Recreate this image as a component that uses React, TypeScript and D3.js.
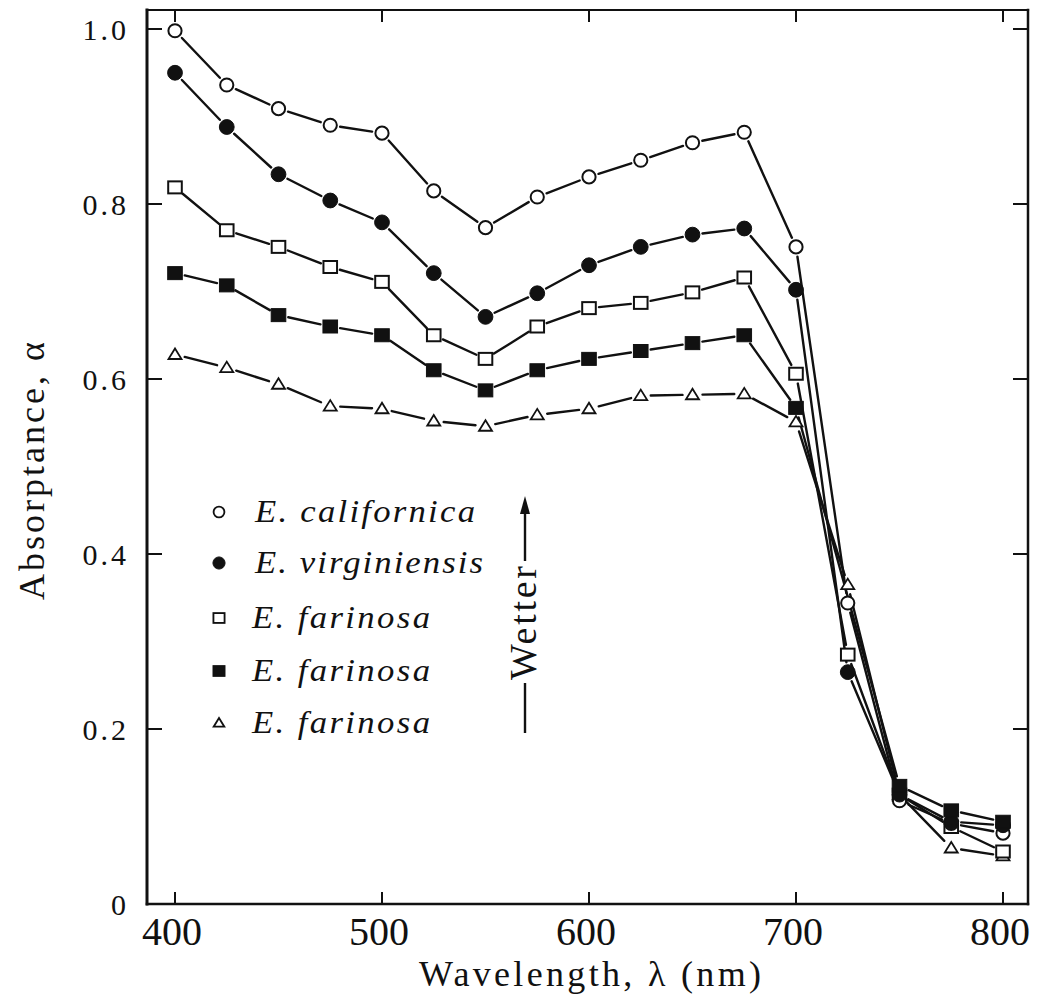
import React from "react";
import * as d3 from "d3";

// Wavelength grid (nm) shared by all leaf series
const wavelengths = [400, 425, 450, 475, 500, 525, 550, 575, 600, 625, 650, 675, 700, 725, 750, 775, 800];

// Absorptance per species / leaf type
const californica = [0.998, 0.936, 0.909, 0.89, 0.881, 0.815, 0.773, 0.808, 0.831, 0.85, 0.87, 0.882, 0.751, 0.344, 0.118, 0.092, 0.081];
const virginiensis = [0.95, 0.888, 0.834, 0.804, 0.779, 0.721, 0.671, 0.698, 0.73, 0.751, 0.765, 0.772, 0.702, 0.265, 0.125, 0.094, 0.09];
const farinosaA = [0.819, 0.77, 0.751, 0.728, 0.711, 0.65, 0.623, 0.66, 0.681, 0.687, 0.699, 0.716, 0.606, 0.285, 0.125, 0.088, 0.06];
const farinosaB = [0.721, 0.707, 0.673, 0.66, 0.65, 0.61, 0.587, 0.61, 0.623, 0.632, 0.641, 0.65, 0.567, null, 0.135, 0.107, 0.094];
const farinosaC = [0.628, 0.613, 0.594, 0.569, 0.566, 0.552, 0.546, 0.559, 0.566, 0.581, 0.582, 0.583, 0.551, 0.365, 0.125, 0.064, 0.055];

const seriesLabels = ["E. californica", "E. virginiensis", "E. farinosa", "E. farinosa", "E. farinosa"];
const xTicks = [400, 500, 600, 700, 800];
const yTicks = [0, 0.2, 0.4, 0.6, 0.8, 1.0];
const yTickLabels = ["0", "0.2", "0.4", "0.6", "0.8", "1.0"];

type Kind = "circleOpen" | "circleFilled" | "squareOpen" | "squareFilled" | "triangleOpen";

const series: { kind: Kind; values: (number | null)[] }[] = [
  { kind: "triangleOpen", values: farinosaC },
  { kind: "squareOpen", values: farinosaA },
  { kind: "circleOpen", values: californica },
  { kind: "circleFilled", values: virginiensis },
  { kind: "squareFilled", values: farinosaB },
];
const legendKinds: Kind[] = ["circleOpen", "circleFilled", "squareOpen", "squareFilled", "triangleOpen"];
const legendWidths = [220, 228, 178, 178, 178];

const W = 1037;
const H = 999;
const frame = { left: 147, right: 1028, top: 10, bottom: 904 };

const x = d3.scaleLinear().domain([400, 800]).range([175, 1003]);
const y = d3.scaleLinear().domain([0, 1]).range([904, 29]);

const INK = "#111";
const serif: React.CSSProperties = { fontFamily: '"Liberation Serif", "Times New Roman", serif' };

function Marker({ kind, cx, cy, s = 1 }: { kind: Kind; cx: number; cy: number; s?: number }) {
  const sw = 2 * Math.min(1, s + 0.1);
  switch (kind) {
    case "circleOpen":
      return <circle cx={cx} cy={cy} r={6.6 * s} fill="#fff" stroke={INK} strokeWidth={sw} />;
    case "circleFilled":
      return <circle cx={cx} cy={cy} r={7.4 * s} fill={INK} stroke={INK} strokeWidth={1} />;
    case "squareOpen":
      return <rect x={cx - 6.8 * s} y={cy - 6 * s} width={13.6 * s} height={12 * s} fill="#fff" stroke={INK} strokeWidth={sw} />;
    case "squareFilled":
      return <rect x={cx - 7.3 * s} y={cy - 6.5 * s} width={14.6 * s} height={13 * s} fill={INK} stroke={INK} strokeWidth={1} />;
    case "triangleOpen": {
      const h = 10 * s;
      const w = 13 * s;
      const pts = [
        [cx, cy - h * 0.6],
        [cx - w / 2, cy + h * 0.45],
        [cx + w / 2, cy + h * 0.45],
      ];
      return <polygon points={pts.map((p) => p.join(",")).join(" ")} fill="#fff" stroke={INK} strokeWidth={1.8} strokeLinejoin="miter" />;
    }
  }
}

// Connecting segments stop short of each marker, leaving a small gap
function segments(values: (number | null)[], gap: number) {
  const pts = wavelengths
    .map((w, i) => ({ w, v: values[i] }))
    .filter((d) => d.v != null)
    .map((d) => [x(d.w), y(d.v as number)]);
  const out: [number, number, number, number][] = [];
  for (let i = 0; i < pts.length - 1; i++) {
    const [x1, y1] = pts[i];
    const [x2, y2] = pts[i + 1];
    const dx = x2 - x1;
    const dy = y2 - y1;
    const len = Math.hypot(dx, dy);
    if (len <= 2 * gap + 2) continue;
    const ux = dx / len;
    const uy = dy / len;
    out.push([x1 + ux * gap, y1 + uy * gap, x2 - ux * gap, y2 - uy * gap]);
  }
  return out;
}

export default function App() {
  const legendX = 219;
  const legendTextX = [255, 255, 252, 252, 252];
  const legendRows = [512, 563, 618, 671, 723];
  const legendStretch = 1.12;

  return (
    <svg width={W} height={H} style={{ position: "absolute", left: 0, top: 0, background: "#fff" }}>
      <rect width={W} height={H} fill="#fff" />

      {/* frame */}
      <g stroke={INK} fill="none" strokeLinecap="square">
        <line x1={frame.left} y1={frame.top} x2={frame.left} y2={frame.bottom} strokeWidth={3} />
        <line x1={frame.left} y1={frame.bottom} x2={frame.right} y2={frame.bottom} strokeWidth={2.5} />
        <line x1={frame.left} y1={frame.top} x2={frame.right} y2={frame.top} strokeWidth={2.2} />
        <line x1={frame.right} y1={frame.top} x2={frame.right} y2={frame.bottom} strokeWidth={2.5} />
      </g>

      {/* ticks */}
      <g stroke={INK} strokeWidth={2}>
        {xTicks.map((t) => (
          <g key={"xt" + t}>
            <line x1={x(t)} x2={x(t)} y1={frame.bottom} y2={frame.bottom - 12} />
            <line x1={x(t)} x2={x(t)} y1={frame.top} y2={frame.top + 12} />
          </g>
        ))}
        {yTicks.map((t) => (
          <g key={"yt" + t}>
            <line x1={frame.left} x2={frame.left + 15} y1={y(t)} y2={y(t)} />
            <line x1={frame.right} x2={frame.right - 15} y1={y(t)} y2={y(t)} />
          </g>
        ))}
      </g>

      {/* tick labels */}
      <g fill={INK} style={serif}>
        {xTicks.map((t) => (
          <text key={"xl" + t} x={x(t) - 3} y={945} textAnchor="middle" fontSize={40}>
            {t}
          </text>
        ))}
        {yTicks.map((t, i) => (
          <text key={"yl" + t} x={129} y={y(t) + 10.5} textAnchor="end" fontSize={30} letterSpacing={3}>
            {yTickLabels[i]}
          </text>
        ))}
      </g>

      {/* axis titles */}
      <text x={590} y={986} style={serif} fontSize={36} fill={INK} textAnchor="middle" textLength={342} lengthAdjust="spacing">
        Wavelength, λ (nm)
      </text>
      <text
        transform={`translate(44,471) rotate(-90)`}
        style={serif}
        fontSize={36}
        fill={INK}
        textAnchor="middle"
        textLength={258}
        lengthAdjust="spacing"
      >
        Absorptance, α
      </text>

      {/* series lines */}
      <g stroke={INK} strokeWidth={2.4} strokeLinecap="round">
        {series.map((s, si) =>
          segments(s.values, 10).map((sg, i) => (
            <line key={si + "-" + i} x1={sg[0]} y1={sg[1]} x2={sg[2]} y2={sg[3]} />
          ))
        )}
      </g>

      {/* series markers */}
      {series.map((s, si) => (
        <g key={"m" + si}>
          {wavelengths.map((w, i) =>
            s.values[i] == null ? null : <Marker key={i} kind={s.kind} cx={x(w)} cy={y(s.values[i] as number)} />
          )}
        </g>
      ))}

      {/* legend */}
      {legendKinds.map((k, i) => (
        <g key={"lg" + i}>
          <Marker kind={k} cx={legendX} cy={legendRows[i]} s={0.82} />
          <text
            transform={`translate(${legendTextX[i]},${legendRows[i] + 10}) scale(${legendStretch},1)`}
            style={{ ...serif, fontStyle: "italic" }}
            fontSize={31}
            fill={INK}
            textLength={legendWidths[i] / legendStretch}
            lengthAdjust="spacing"
          >
            {seriesLabels[i]}
          </text>
        </g>
      ))}

      {/* "Wetter" arrow */}
      <g stroke={INK} strokeWidth={2.4}>
        <line x1={525} y1={733} x2={525} y2={683} />
        <line x1={525} y1={561} x2={525} y2={510} />
      </g>
      <polygon points="525,496 520,514 530,514" fill={INK} />
      <text
        transform={`translate(536,623) rotate(-90)`}
        style={serif}
        fontSize={38}
        fill={INK}
        textAnchor="middle"
        textLength={114}
        lengthAdjust="spacing"
      >
        Wetter
      </text>
    </svg>
  );
}
